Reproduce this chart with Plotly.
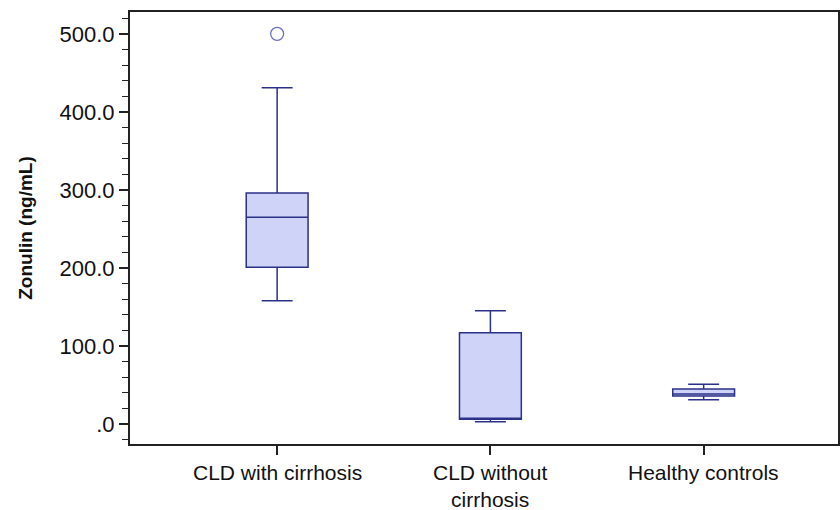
import plotly.graph_objects as go

categories = ["CLD with cirrhosis", "CLD without cirrhosis", "Healthy controls"]
tick_labels = ["CLD with cirrhosis", "CLD without<br>cirrhosis", "Healthy controls"]
q1 = [201, 6, 36]
median = [265, 7, 38.5]
q3 = [296, 117, 45]
lower = [158, 3, 31]
upper = [431, 145, 51]
outlier_cat = ["CLD with cirrhosis"]
outlier_val = [500]
ytick_vals = [0, 100, 200, 300, 400, 500]
ytick_text = [".0", "100.0", "200.0", "300.0", "400.0", "500.0"]

fill = "#cfd3f7"
line = "#2b3088"

fig = go.Figure()
fig.add_trace(go.Box(
    x=categories, q1=q1, median=median, q3=q3,
    lowerfence=lower, upperfence=upper,
    fillcolor=fill, line=dict(color=line, width=1.5),
    width=0.29, whiskerwidth=0.5, boxpoints=False, showlegend=False,
))
fig.add_trace(go.Scatter(
    x=outlier_cat, y=outlier_val, mode="markers",
    marker=dict(symbol="circle-open", size=13, color="#6a6fc4", line=dict(width=1.3)),
    showlegend=False,
))

for cat, txt in zip(categories, tick_labels):
    fig.add_annotation(
        x=cat, xref="x", y=0, yref="paper", yanchor="top",
        yshift=-16, text=txt, showarrow=False, borderpad=0,
        font=dict(size=21, color="#111111"),
    )

fig.update_layout(
    width=840, height=510,
    margin=dict(l=130, r=2, t=12, b=66),
    plot_bgcolor="white", paper_bgcolor="white",
    font=dict(family="Liberation Sans, Arial, sans-serif", size=22, color="#111111"),
)
fig.update_xaxes(
    type="category", categoryorder="array", categoryarray=categories,
    range=[-0.69, 2.63], automargin=False, showticklabels=False,
    showline=True, linecolor="#222222", linewidth=2, mirror=True,
    ticks="outside", ticklen=9, tickcolor="#222222", tickwidth=1.5,
    showgrid=False, zeroline=False,
)
fig.update_yaxes(
    range=[-25.6, 528], automargin=False,
    tickvals=ytick_vals, ticktext=ytick_text,
    showline=True, linecolor="#222222", linewidth=2, mirror=True,
    ticks="outside", ticklen=9, tickcolor="#222222", tickwidth=1.5,
    minor=dict(dtick=20, tick0=0, ticks="outside", ticklen=6, tickcolor="#222222", tickwidth=1),
    showgrid=False, zeroline=False,
    tickfont=dict(size=22),
    title=dict(text="<b>Zonulin (ng/mL)</b>", font=dict(size=19), standoff=22),
)

fig.write_html(
    "out.html",
    config={"displayModeBar": False, "responsive": False},
    default_width="840px", default_height="510px",
    post_script="document.body.style.margin='0';document.body.style.overflow='hidden';",
)
